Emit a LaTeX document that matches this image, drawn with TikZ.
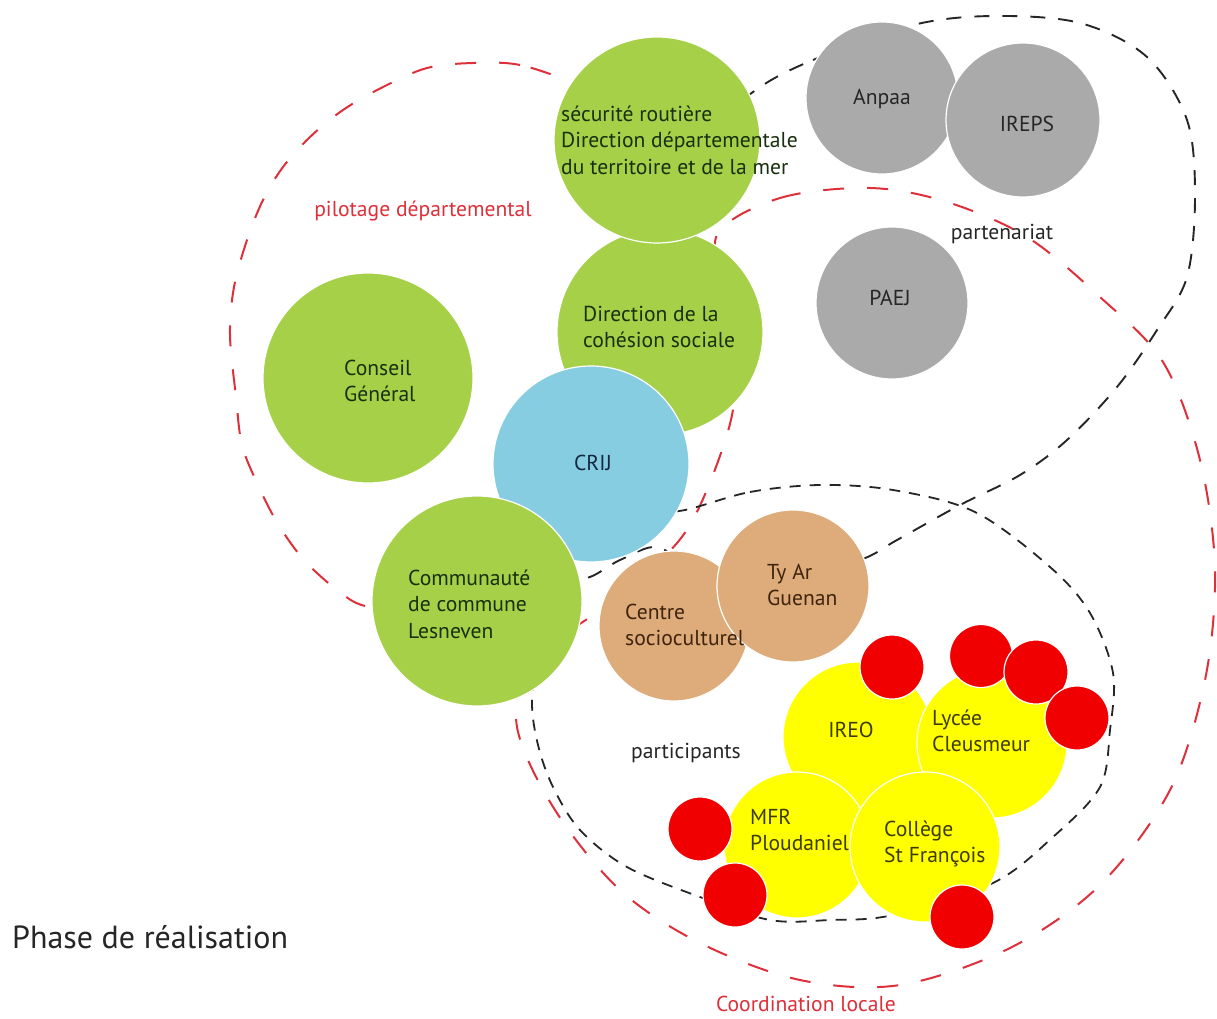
\documentclass[tikz,border=0pt]{standalone}
\usepackage{fontspec}
\setmainfont{PT Sans}
\definecolor{leaf}{RGB}{166,208,72}
\definecolor{leaftext}{RGB}{24,48,14}
\definecolor{sky}{RGB}{135,205,225}
\definecolor{skytext}{RGB}{20,40,66}
\definecolor{stone}{RGB}{170,170,170}
\definecolor{stonetext}{RGB}{38,38,38}
\definecolor{sand}{RGB}{222,172,122}
\definecolor{sandtext}{RGB}{62,36,12}
\definecolor{lemon}{RGB}{255,255,0}
\definecolor{lemontext}{RGB}{60,60,0}
\definecolor{dot}{RGB}{240,0,0}
\definecolor{loopred}{RGB}{222,48,58}
\begin{document}
\begin{tikzpicture}[x=1pt,y=-1pt,
  bub/.style={circle, draw=white, line width=1.2pt, inner sep=0pt},
  lbl/.style={font=\fontsize{21.6}{26.5}\selectfont, align=left, inner sep=0pt},
  redloop/.style={draw=loopred, line width=2pt, dash pattern=on 21pt off 23pt},
  partloop/.style={draw=black!85, line width=1.9pt, dash pattern=on 15pt off 13pt},
  particloop/.style={draw=black!85, line width=1.8pt, dash pattern=on 11pt off 9pt}]
\useasboundingbox[fill=white] (0,0) rectangle (1217,1019);

% pilotage départemental
\draw[redloop] plot[smooth cycle, tension=0.55] coordinates {
  (575,84) (520,65) (473,63) (427,68) (383,87) (343,110) (310,137) (283,167)
  (263,200) (247,240) (234,287) (230,335) (236,397) (242,445) (258,485)
  (278,524) (304,560) (337,590) (365,606) (420,612) (500,560) (560,490)
  (615,400) (650,300) (655,236) (640,160) (605,105)};

% coordination locale
\draw[redloop] plot[smooth cycle, tension=0.55] coordinates {
  (717,235) (780,198) (870,188) (947,202) (1027,237) (1100,297) (1163,362)
  (1200,460) (1215,570) (1205,680) (1170,790) (1100,885) (1010,948)
  (900,985) (800,980) (700,943) (620,890) (555,810) (517,727) (530,660)
  (590,617) (650,570) (690,525) (722,450) (735,390) (728,300)};

% partenariat
\draw[partloop] plot[smooth cycle, tension=0.55] coordinates {
  (753,92) (813,60) (913,25) (993,16) (1080,23) (1147,57) (1187,120)
  (1195,197) (1187,277) (1157,330) (1117,387) (1067,440) (1020,475)
  (960,505) (897,540) (860,560) (780,582) (733,600) (690,570) (657,547)
  (620,560) (585,578) (560,560) (560,505) (600,420) (640,330) (655,236)
  (690,150)};

% participants
\draw[particloop] plot[smooth cycle, tension=0.55] coordinates {
  (685,510) (750,492) (820,485) (893,490) (975,512) (1050,567) (1090,613)
  (1113,673) (1110,730) (1100,787) (1053,837) (993,883) (893,915)
  (830,920) (770,920) (700,897) (627,867) (580,830) (553,787) (538,745)
  (532,700) (540,640) (560,580) (590,535) (640,515)};

% pilotage circles
\node[bub, fill=leaf, minimum size=210pt] (conseil) at (368,378) {};
\node[bub, fill=leaf, minimum size=206pt] (cohesion) at (660,332) {};
\node[bub, fill=leaf, minimum size=206pt] (secu) at (657,140) {};
\node[bub, fill=sky, minimum size=196pt] (crij) at (591,464) {};
\node[bub, fill=leaf, minimum size=210pt] (ccl) at (477,601) {};

% partner circles
\node[bub, fill=stone, minimum size=152pt] (anpaa) at (882,98) {};
\node[bub, fill=stone, minimum size=154pt] (ireps) at (1023,120) {};
\node[bub, fill=stone, minimum size=152pt] (paej) at (892,303) {};

% participant circles
\node[bub, fill=sand, minimum size=150pt] (centre) at (674,626) {};
\node[bub, fill=sand, minimum size=152pt] (tyar) at (793,586) {};
\node[bub, fill=lemon, minimum size=150pt] (ireo) at (858,737) {};
\node[bub, fill=lemon, minimum size=150pt] (lycee) at (992,743) {};
\node[bub, fill=lemon, minimum size=146pt] (mfr) at (797,845) {};
\node[bub, fill=lemon, minimum size=150pt] (college) at (925,847) {};

% red dots
\node[bub, fill=dot, minimum size=64pt] (d1) at (892,667) {};
\node[bub, fill=dot, minimum size=63pt] (d2) at (981,656) {};
\node[bub, fill=dot, minimum size=64pt] (d3) at (1036,672) {};
\node[bub, fill=dot, minimum size=64pt] (d4) at (1077,718) {};
\node[bub, fill=dot, minimum size=64pt] (d5) at (700,829) {};
\node[bub, fill=dot, minimum size=64pt] (d6) at (735,895) {};
\node[bub, fill=dot, minimum size=64pt] (d7) at (962,917) {};

% labels
\node[lbl, text=leaftext, anchor=west] (t-secu) at (561,140)
  {sécurité routière\\Direction départementale\\du territoire et de la mer};
\node[lbl, text=leaftext, anchor=west] (t-coh) at (583,327) {Direction de la\\cohésion sociale};
\node[lbl, text=leaftext, anchor=west] (t-cons) at (344,381) {Conseil\\Général};
\node[lbl, text=skytext] (t-crij) at (593,463) {CRIJ};
\node[lbl, text=leaftext, anchor=west] (t-ccl) at (408,604) {Communauté\\de commune\\Lesneven};
\node[lbl, text=stonetext] (t-anpaa) at (882,99) {Anpaa};
\node[lbl, text=stonetext] (t-ireps) at (1027,124) {IREPS};
\node[lbl, text=stonetext] (t-paej) at (890,298) {PAEJ};
\node[lbl, text=stonetext] (t-part) at (1002,234) {partenariat};
\node[lbl, text=loopred] (t-pil) at (423,211) {pilotage départemental};
\node[lbl, text=sandtext, anchor=west] (t-centre) at (625,625) {Centre\\socioculturel};
\node[lbl, text=sandtext, anchor=west] (t-tyar) at (767,585) {Ty Ar\\Guenan};
\node[lbl, text=lemontext] (t-ireo) at (851,730) {IREO};
\node[lbl, text=lemontext, anchor=west] (t-lycee) at (932,731) {Lycée\\Cleusmeur};
\node[lbl, text=stonetext] (t-partic) at (686,753) {participants};
\node[lbl, text=lemontext, anchor=west] (t-mfr) at (750,830) {MFR\\Ploudaniel};
\node[lbl, text=lemontext, anchor=west] (t-coll) at (884,844) {Collège\\St François};
\node[lbl, text=loopred] (t-coord) at (806,1004) {Coordination locale};
\node[lbl, font=\fontsize{32}{38}\selectfont, text=black!85, anchor=west] (t-phase) at (12,937) {Phase de réalisation};
\end{tikzpicture}
\end{document}
